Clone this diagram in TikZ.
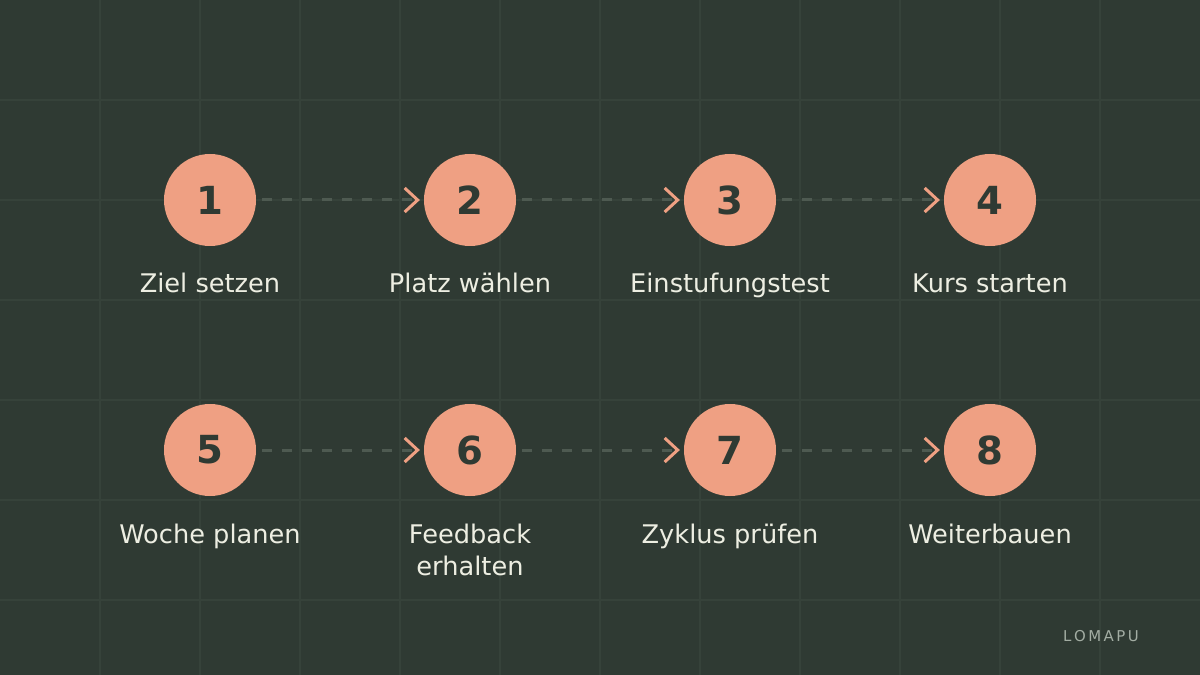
\documentclass[tikz,border=0pt]{standalone}
\usepackage{fontspec}
\setmainfont{DejaVu Sans}
\usetikzlibrary{calc}
\definecolor{bg}{HTML}{2F3A33}
\definecolor{gridc}{HTML}{36423A}
\definecolor{sal}{HTML}{EFA083}
\definecolor{dash}{HTML}{4E5A51}
\definecolor{txt}{HTML}{EDEEE2}
\definecolor{dark}{HTML}{2F3A33}
\definecolor{logo}{HTML}{A3ADA3}
\begin{document}
\begin{tikzpicture}[x=0.02cm,y=-0.02cm,
  stepnode/.style={circle,fill=sal,minimum size=92*0.02cm,inner sep=0pt,font=\fontsize{22}{24}\selectfont\bfseries,text=dark},
  lab/.style={text=txt,font=\fontsize{14.6}{18}\selectfont,align=center,anchor=base},
  conn/.style={draw=dash,line width=3*0.02cm,dash pattern=on 10*0.02cm off 10*0.02cm,shorten <=6*0.02cm,shorten >=12*0.02cm},
  chev/.style={draw=sal,line width=3*0.02cm}]
\fill[bg] (0,0) rectangle (1200,675);
\useasboundingbox (0,0) rectangle (1200,675);
\foreach \x in {100,200,...,1100} \draw[gridc,line width=0.03cm] (\x,0) -- (\x,675);
\foreach \y in {100,200,...,600} \draw[gridc,line width=0.03cm] (0,\y) -- (1200,\y);
\foreach \n/\x/\y in {1/210/200,2/470/200,3/730/200,4/990/200,5/210/450,6/470/450,7/730/450,8/990/450}
  \node[stepnode] (s\n) at (\x,\y) {\n};
\node[lab] (l1) at (210,293) {Ziel setzen};
\node[lab] (l2) at (470,293) {Platz wählen};
\node[lab] (l3) at (730,293) {Einstufungstest};
\node[lab] (l4) at (990,293) {Kurs starten};
\node[lab] (l5) at (210,543) {Woche planen};
\node[lab] (l6) at (470,575) {Feedback\\erhalten};
\node[lab] (l7) at (730,543) {Zyklus prüfen};
\node[lab] (l8) at (990,543) {Weiterbauen};
\foreach \a/\b in {1/2,2/3,3/4,5/6,6/7,7/8}{
  \draw[conn] (s\a) -- (s\b);
  \draw[chev] ($(s\b.west)+(-19,-12)$) -- ($(s\b.west)+(-6,0)$) -- ($(s\b.west)+(-19,12)$);
}
\node[text=logo,font=\fontsize{8.5}{10}\selectfont] (logo) at (1101,636) {L\,O\,M\,A\,P\,U};
\end{tikzpicture}
\end{document}
